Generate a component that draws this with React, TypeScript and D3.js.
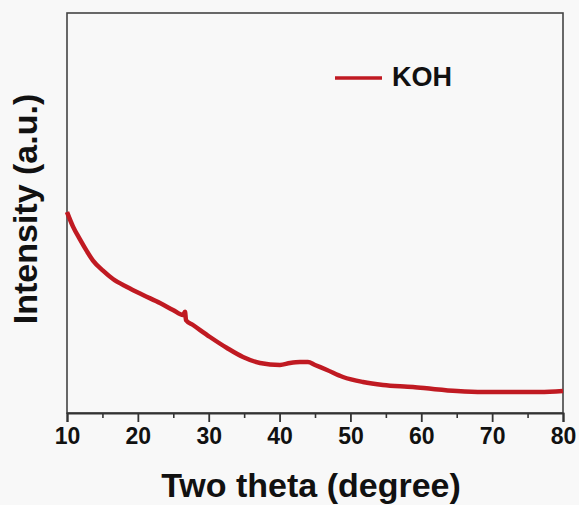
import { useRef, useEffect } from 'react';
import * as d3 from 'd3';

// Two theta (deg) and intensity (a.u.)
const twoTheta = [
  10.0, 10.85, 11.83, 12.82, 13.67, 15.08, 16.49, 18.47, 20.73, 23.12, 24.96, 26.37, 26.65, 26.8,
  27.78, 30.18, 32.58, 34.84, 37.24, 40.06, 41.47, 42.88, 44.0, 45.0, 46.7, 48.95, 51.77, 54.6,
  58.83, 61.65, 65.04, 68.7, 73.5, 76.75, 80.0,
];
const intensity = [
  50.25, 46.6, 43.4, 40.4, 38.1, 35.6, 33.5, 31.5, 29.5, 27.5, 25.75, 24.5, 25.3, 23.2,
  22, 19, 16.25, 14, 12.5, 12, 12.5, 12.75, 12.75, 12, 10.75, 9, 7.75, 7,
  6.5, 6, 5.5, 5.25, 5.25, 5.25, 5.5,
];
const majorTicks = [10, 20, 30, 40, 50, 60, 70, 80];
const minorTicks = [15, 25, 35, 45, 55, 65, 75];
const seriesName = 'KOH';

export default function App() {
  const svgRef = useRef<SVGSVGElement>(null);

  useEffect(() => {
    if (!svgRef.current) return;
    const svg = d3.select(svgRef.current);
    svg.selectAll('*').remove();

    const width = 579;
    const height = 505;
    const margin = { top: 13, right: 16, bottom: 92, left: 67 };
    const innerW = width - margin.left - margin.right;
    const innerH = height - margin.top - margin.bottom;
    const font = 'Liberation Sans, Arial, Helvetica, sans-serif';
    const red = '#c01a22';

    svg.attr('viewBox', `0 0 ${width} ${height}`);

    svg.append('rect').attr('width', width).attr('height', height).attr('fill', '#f8f8f8');

    const x = d3.scaleLinear().domain([10, 80]).range([0, innerW]);
    const y = d3.scaleLinear().domain([0, 100]).range([innerH, 0]);

    const g = svg.append('g').attr('transform', `translate(${margin.left},${margin.top})`);

    // frame
    g.append('rect')
      .attr('width', innerW).attr('height', innerH)
      .attr('fill', 'none').attr('stroke', '#444').attr('stroke-width', 1.6);

    // curve
    const pts = twoTheta.map((t, i) => [t, intensity[i]] as [number, number]);
    const line = d3.line<[number, number]>()
      .x((d) => x(d[0]))
      .y((d) => y(d[1]))
      .curve(d3.curveMonotoneX);
    g.append('path')
      .datum(pts)
      .attr('d', line)
      .attr('fill', 'none')
      .attr('stroke', red)
      .attr('stroke-width', 4.5)
      .attr('stroke-linejoin', 'round');

    // x axis
    g.append('g')
      .attr('transform', `translate(0,${innerH})`)
      .call(d3.axisBottom(x).tickValues(minorTicks).tickSize(5).tickFormat(() => ''))
      .call((a) => { a.select('.domain').remove(); a.selectAll('line').attr('stroke', '#333').attr('stroke-width', 1.6); });

    g.append('g')
      .attr('transform', `translate(0,${innerH})`)
      .call(d3.axisBottom(x).tickValues(majorTicks).tickSize(9).tickPadding(6).tickFormat(d3.format('d')))
      .call((a) => {
        a.select('.domain').attr('stroke', '#333').attr('stroke-width', 2);
        a.selectAll('line').attr('stroke', '#333').attr('stroke-width', 1.8);
        a.selectAll('text')
          .attr('fill', '#111')
          .style('font-family', font)
          .style('font-weight', 'bold')
          .style('font-size', '23px');
      });

    // axis titles
    svg.append('text')
      .attr('x', margin.left + innerW / 2 - 4).attr('y', 497)
      .attr('text-anchor', 'middle')
      .attr('fill', '#111')
      .style('font-family', font).style('font-weight', 'bold').style('font-size', '34px')
      .text('Two theta (degree)');

    svg.append('text')
      .attr('transform', `translate(37, ${margin.top + innerH / 2 - 4}) rotate(-90)`)
      .attr('text-anchor', 'middle')
      .attr('fill', '#111')
      .style('font-family', font).style('font-weight', 'bold').style('font-size', '34px')
      .text('Intensity (a.u.)');

    // legend
    const legend = svg.append('g').attr('transform', 'translate(335, 78)');
    legend.append('line')
      .attr('x1', 0).attr('x2', 47).attr('y1', 0).attr('y2', 0)
      .attr('stroke', red).attr('stroke-width', 3.5);
    legend.append('text')
      .attr('x', 57).attr('y', 8)
      .attr('fill', '#111')
      .style('font-family', font).style('font-weight', 'bold').style('font-size', '27px')
      .text(seriesName);
  }, []);

  return (
    <svg
      ref={svgRef}
      width={579}
      height={505}
      style={{ position: 'absolute', left: 0, top: 0, display: 'block' }}
    />
  );
}
